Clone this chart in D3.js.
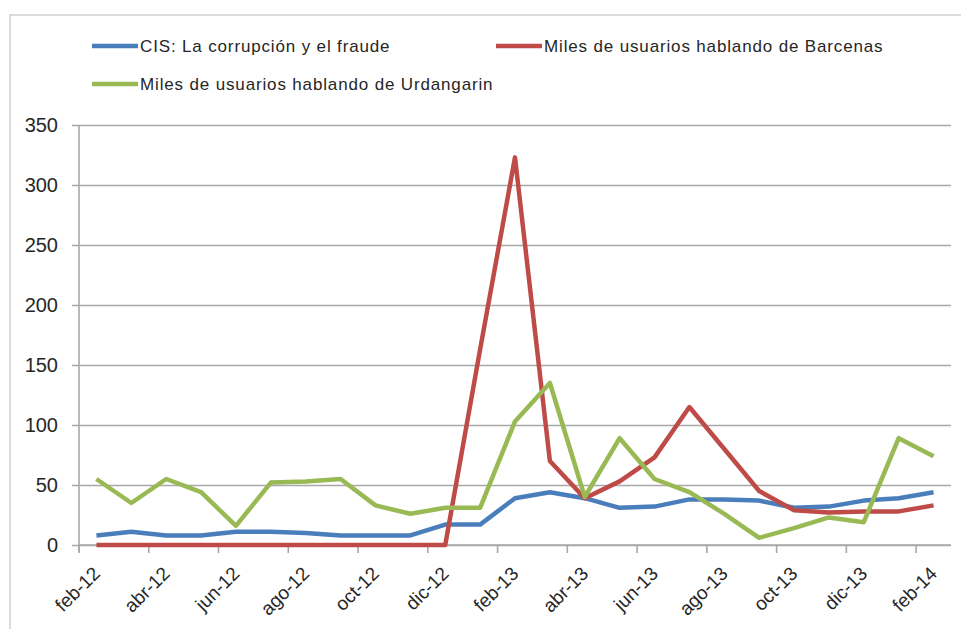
<!DOCTYPE html>
<html>
<head>
<meta charset="utf-8">
<script src="https://cdn.jsdelivr.net/npm/d3@7"></script>
<style>
  body { margin: 0; background: #fff; }
  text { font-family: "Liberation Sans", Arial, sans-serif; fill: #262626; }
</style>
</head>
<body>
<svg id="chart" width="961" height="629"></svg>
<script>
// months feb-12 .. feb-14
var months = ["feb-12","mar-12","abr-12","may-12","jun-12","jul-12","ago-12","sep-12","oct-12","nov-12","dic-12",
  "ene-13","feb-13","mar-13","abr-13","may-13","jun-13","jul-13","ago-13","sep-13","oct-13","nov-13","dic-13",
  "ene-14","feb-14"];

var cisValues = [8, 11, 8, 8, 11, 11, 10, 8, 8, 8, 17, 17, 39, 44, 39, 31, 32, 38, 38, 37, 31, 32, 37, 39, 44];
var barcenasValues = [0, 0, 0, 0, 0, 0, 0, 0, 0, 0, 0, 163, 323, 70, 39, 53, 73, 115, 80, 45, 29, 27, 28, 28, 33];
var urdangarinValues = [55, 35, 55, 44, 16, 52, 53, 55, 33, 26, 31, 31, 103, 135, 40, 89, 55, 44, 26, 6, 14, 23, 19, 89, 74];

var yTicks = [0, 50, 100, 150, 200, 250, 300, 350];

var series = [
  { name: "CIS: La corrupción y el fraude", values: cisValues, color: "#4a7ebb" },
  { name: "Miles de usuarios hablando de Barcenas", values: barcenasValues, color: "#be4b48" },
  { name: "Miles de usuarios hablando de Urdangarin", values: urdangarinValues, color: "#98b954" }
];

var svg = d3.select("#chart");
var margin = { top: 125, right: 10, bottom: 84, left: 79 };
var width = 961 - margin.left - margin.right;
var height = 629 - margin.top - margin.bottom;

// outer chart frame (only left & top are visible in the crop)
svg.append("path")
  .attr("d", "M10,629V15H961")
  .attr("fill", "none")
  .attr("stroke", "#d0d0d0")
  .attr("stroke-width", 1.5);

var x = d3.scaleBand().domain(months).range([0, width]);
var y = d3.scaleLinear().domain([0, 350]).range([height, 0]);

var g = svg.append("g")
  .attr("transform", "translate(" + margin.left + "," + margin.top + ")");

// gridlines + y axis
var yAxis = g.append("g")
  .attr("class", "y axis")
  .call(d3.axisLeft(y).tickValues(yTicks).tickSize(-width).tickPadding(21));
yAxis.select(".domain").remove();
yAxis.selectAll(".tick line")
  .attr("x1", -7)
  .attr("stroke", "#a8a8a8")
  .attr("stroke-width", 1.6);
yAxis.selectAll(".tick text")
  .style("font-size", "20px")
  .style("fill", "#262626");

g.append("line")
  .attr("x1", 0).attr("x2", 0)
  .attr("y1", 0).attr("y2", height + 7)
  .attr("stroke", "#a8a8a8")
  .attr("stroke-width", 1.6);

// x axis: tick marks every 2 categories at band edges
var tickIdx = d3.range(0, months.length + 1, 2);
var xAxis = g.append("g").attr("transform", "translate(0," + height + ")");
xAxis.append("line")
  .attr("x1", 0).attr("x2", width)
  .attr("stroke", "#a8a8a8")
  .attr("stroke-width", 1.6);
xAxis.selectAll(".xtick")
  .data(tickIdx)
  .enter()
  .append("line")
  .attr("x1", i => i < months.length ? x(months[i]) : width)
  .attr("x2", i => i < months.length ? x(months[i]) : width)
  .attr("y1", 0).attr("y2", 8)
  .attr("stroke", "#a8a8a8")
  .attr("stroke-width", 1.6);

xAxis.selectAll(".xlabel")
  .data(months.filter((m, i) => i % 2 === 0))
  .enter()
  .append("text")
  .attr("transform", d => `translate(${x(d) + x.bandwidth() / 2},${25}) rotate(-45)`)
  .attr("text-anchor", "end")
  .attr("dy", "0.35em")
  .style("font-size", "19px")
  .text(d => d);

// lines
var line = d3.line()
  .x((d, i) => x(months[i]) + x.bandwidth() / 2)
  .y(d => y(d));

g.selectAll(".series")
  .data(series)
  .enter()
  .append("path")
  .attr("class", "series")
  .attr("fill", "none")
  .attr("stroke", d => d.color)
  .attr("stroke-width", 4.5)
  .attr("stroke-linejoin", "round")
  .attr("d", d => line(d.values));

// legend
var legendPos = [[92, 46], [496, 46], [92, 84]];
var legend = svg.selectAll(".legend")
  .data(series)
  .enter()
  .append("g")
  .attr("class", "legend")
  .attr("transform", (d, i) => `translate(${legendPos[i][0]},${legendPos[i][1]})`);
legend.append("line")
  .attr("x1", 0).attr("x2", 46)
  .attr("stroke", d => d.color)
  .attr("stroke-width", 4.5);
legend.append("text")
  .attr("x", 48)
  .attr("dy", "0.35em")
  .style("font-size", "17px")
  .style("letter-spacing", "0.85px")
  .text(d => d.name);
</script>
</body>
</html>
